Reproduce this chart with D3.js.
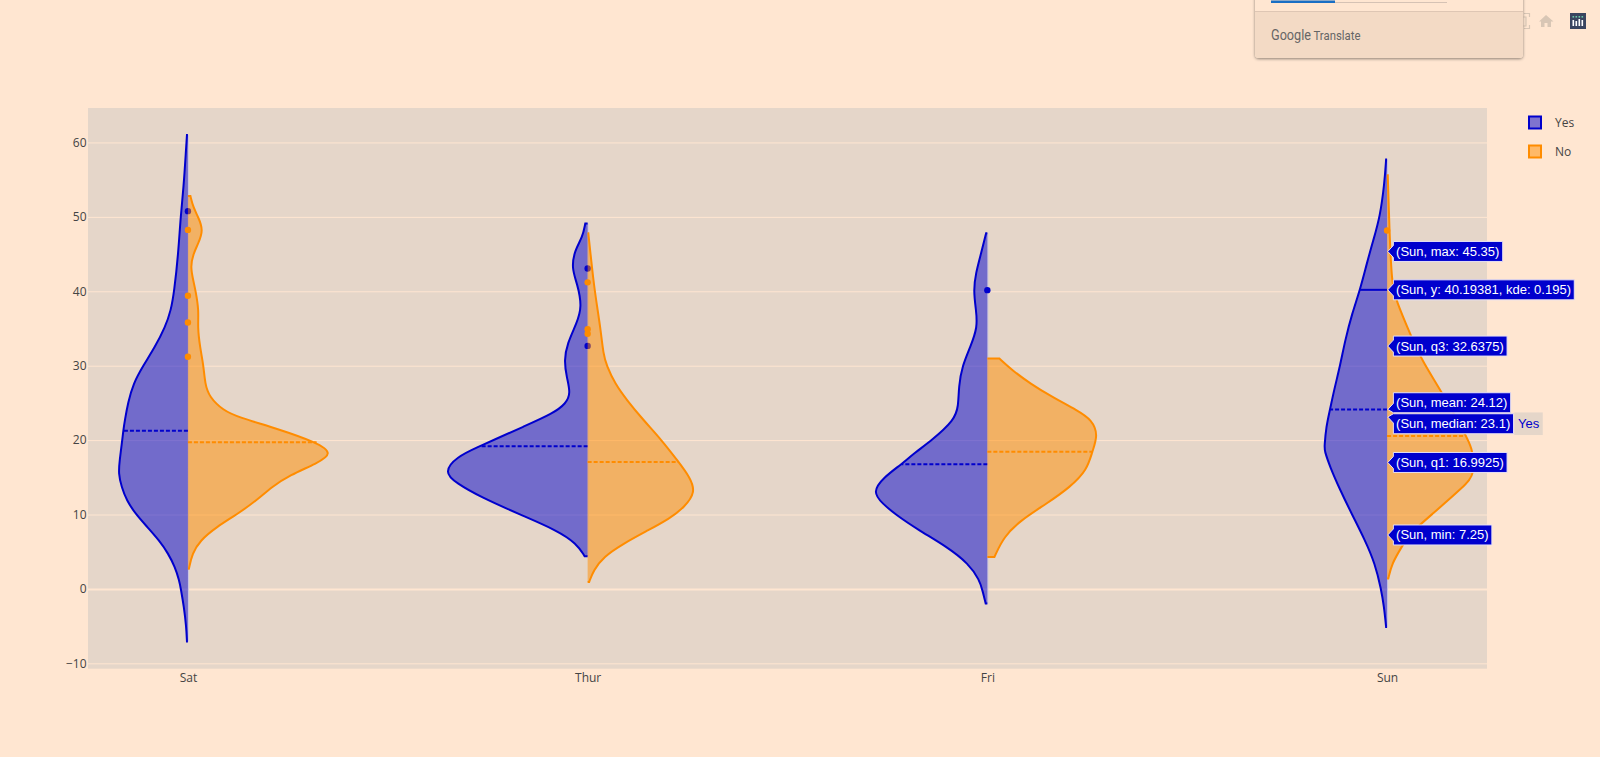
<!DOCTYPE html>
<html>
<head>
<meta charset="utf-8">
<script src="https://cdn.jsdelivr.net/npm/d3@7"></script>
<style>
html,body{margin:0;padding:0;background:#FFE6D1;overflow:hidden}
svg{display:block}
text{font-family:"Open Sans",sans-serif}
</style>
</head>
<body>
<svg id="c" width="1600" height="757"></svg>
<script>
const categories = ["Sat","Thur","Fri","Sun"];
const yTicks = [-10,0,10,20,30,40,50,60];
const seriesNames = ["Yes","No"];

// density profiles: [y, kde]
const satYes = [[61,.007],[59,.014],[54,.031],[50,.053],[45,.070],[40,.099],[37.4,.123],[35.2,.164],[32.5,.238],[30,.323],[27.6,.395],[25,.433],[22.7,.455],[21.25,.467],[20,.474],[17.3,.493],[15.5,.502],[13.7,.479],[11.9,.443],[10,.375],[8.33,.294],[6.5,.207],[4.75,.142],[2.96,.094],[1.17,.063],[0,.051],[-2.4,.029],[-5.1,.012],[-7.07,.007]];
const satNo = [[52.8,.018],[51.3,.038],[50,.074],[48.2,.112],[46.4,.074],[45,.038],[43.3,.018],[41.5,.038],[40,.056],[37.4,.079],[35.2,.070],[32.5,.087],[30,.113],[27.6,.123],[25.8,.154],[24,.255],[23.1,.361],[21.55,.643],[19.7,.929],[18.2,1.05],[16.85,.929],[15.3,.736],[13.7,.604],[11.9,.496],[10,.352],[8.33,.207],[6.5,.087],[4.75,.031],[2.7,.007]];
const thurYes = [[49.1,.017],[47.3,.036],[45.5,.094],[43.06,.116],[41,.074],[37.9,.040],[35.7,.079],[33,.147],[30.7,.170],[28.5,.152],[26.3,.122],[24.9,.157],[23.6,.248],[21.8,.464],[20,.681],[19.1,.789],[17.75,.946],[15.7,1.04],[14.2,.946],[12.4,.778],[10,.489],[7.9,.224],[6.1,.079],[4.4,.022]];
const thurNo = [[47.8,.005],[41.1,.043],[37.5,.072],[34.8,.094],[31.6,.113],[30,.137],[27.6,.197],[25.4,.282],[22.7,.402],[20,.534],[17.1,.655],[15,.739],[13,.78],[11,.700],[9.46,.592],[7.9,.438],[6.1,.258],[4.3,.113],[2.5,.043],[.94,.011]];
const friYes = [[47.8,.009],[45.1,.045],[42.4,.084],[40.1,.100],[37.5,.082],[35.2,.070],[32.5,.123],[30,.181],[27.2,.207],[24.5,.209],[22.7,.238],[20,.399],[18.2,.532],[16.8,.616],[15,.749],[13,.83],[11.5,.758],[10,.664],[7.9,.496],[5.65,.291],[3.4,.135],[1.17,.056],[-.17,.036],[-1.96,.012]];
const friNo = [[30.96,.087],[29.4,.178],[27.6,.310],[25.8,.467],[24,.648],[22.7,.756],[20.65,.80],[18.4,.756],[16,.720],[13.7,.599],[11.5,.431],[9.2,.238],[7,.118],[4.3,.051]];
const sunYes = [[57.7,.007],[54.5,.019],[50,.051],[46.9,.099],[43.7,.147],[40.19,.195],[37,.253],[33.4,.303],[30,.339],[26.7,.383],[24.1,.412],[21.8,.440],[19.1,.452],[18.6,.452],[16.4,.412],[13.3,.339],[10,.253],[6.55,.159],[3.4,.087],[0,.043],[-2.4,.022],[-5.1,.007]];
const sunNo = [[55.6,.005],[48.2,.017],[41,.034],[38.8,.065],[34.3,.166],[30.7,.251],[26.7,.388],[20.65,.568],[19.1,.612],[15.5,.640],[13.7,.551],[10,.323],[7.5,.166],[5.65,.106],[3.4,.034],[1.4,.009]];

const yesProfiles = [satYes,thurYes,friYes,sunYes];
const noProfiles = [satNo,thurNo,friNo,sunNo];
const yesMeans = [21.25,19.17,16.76,24.12];
const noMeans = [19.7,17.07,18.42,20.56];
const yesOutliers = [[50.77],[43.06,32.66],[40.15],[]];
const noOutliers = [[48.25,39.4,35.8,31.2],[41.2,34.9,34.3],[],[48.17]];

const hoverCategory = "Sun";
const hoverLabels = ["(Sun, max: 45.35)","(Sun, y: 40.19381, kde: 0.195)","(Sun, q3: 32.6375)","(Sun, mean: 24.12)","(Sun, median: 23.1)","(Sun, q1: 16.9925)","(Sun, min: 7.25)"];
const hoverValues = [45.35,40.19381,32.6375,24.12,23.1,16.9925,7.25];
const spikeValue = [40.19381,0.195];

const BLUE="#0000CD", ORANGE="#FF8C00", PAPER="#FFE6D1", PLOT="#E5D6C9";
const L=88,R=1487,T=108,B=668.7;

const svg=d3.select("#c");
const x=d3.scalePoint().domain(categories).range([L,R]).padding(0.25);
const y=d3.scaleLinear().domain([-10.72,64.63]).range([B,T]);
const kdeW=d3.scaleLinear().domain([0,1]).range([0,138.5]);

/* ---------- modebar (behind popup) ---------- */
const mb=svg.append("g");
mb.append("path").attr("d","M1524,13.5h5.5v3.5M1529.5,25v3.5h-5.5M1523.5,17h2.5v9h-2.5").attr("fill","none").attr("stroke","#D8C6B5").attr("stroke-width",1.2);
mb.append("path").attr("d","M1546,15 L1539,21.5 L1541,21.5 L1541,27 L1544.5,27 L1544.5,23 L1547.5,23 L1547.5,27 L1551,27 L1551,21.5 L1553.5,21.5 Z").attr("fill","#D8C6B5");
mb.append("rect").attr("x",1570).attr("y",13).attr("width",16).attr("height",16).attr("fill","#3A4560");
[1572.5,1575.5,1578.5,1581.5].forEach((bx,i)=>{
  const top=[20,21,19,20][i];
  mb.append("rect").attr("x",bx).attr("y",top).attr("width",1.6).attr("height",26-top).attr("fill","#fff");
  mb.append("rect").attr("x",bx).attr("y",16).attr("width",1.6).attr("height",1.6).attr("fill","#69C8A8");
});

/* ---------- plot ---------- */
svg.append("rect").attr("x",L).attr("y",T).attr("width",R-L).attr("height",B-T).attr("fill",PLOT);

const grid=svg.append("g").attr("transform",`translate(${L},0)`)
  .call(d3.axisLeft(y).tickValues(yTicks).tickSize(-(R-L)).tickFormat(""));
grid.select(".domain").remove();
grid.selectAll("line").attr("stroke",PAPER).attr("stroke-width",d=>d===0?2:1);

const yAxis=svg.append("g").attr("transform",`translate(${L},0)`)
  .call(d3.axisLeft(y).tickValues(yTicks).tickSize(0).tickPadding(1.5));
yAxis.select(".domain").remove();
yAxis.selectAll("text").attr("font-family","'Open Sans',sans-serif").attr("font-size",12).attr("fill","#444");

const xAxis=svg.append("g").attr("transform",`translate(0,${B})`)
  .call(d3.axisBottom(x).tickSize(0).tickPadding(5));
xAxis.select(".domain").remove();
xAxis.selectAll("text").attr("font-family","'Open Sans',sans-serif").attr("font-size",12).attr("fill","#444");

const smooth=d3.curveBasis;
function outline(profile,cx,side){
  const line=d3.line().curve(smooth).x(d=>cx+side*kdeW(d[1])).y(d=>y(d[0]));
  const body=line(profile).replace(/^M/,"L");
  return `M${cx},${y(profile[0][0])}${body}L${cx},${y(profile[profile.length-1][0])}`;
}
function kdeAt(profile,v){
  for(let i=0;i<profile.length-1;i++){
    const a=profile[i],b=profile[i+1];
    if(v<=a[0]&&v>=b[0]) return a[1]+(b[1]-a[1])*(a[0]-v)/(a[0]-b[0]);
  }
  return 0;
}
function drawViolin(profile,mean,outliers,cx,side,color){
  const g=svg.append("g");
  const d=outline(profile,cx,side);
  g.append("path").attr("d",d+"Z").attr("fill",color).attr("fill-opacity",0.5);
  g.append("path").attr("d",d).attr("fill","none").attr("stroke",color).attr("stroke-width",2);
  g.append("line").attr("x1",cx).attr("x2",cx+side*kdeW(kdeAt(profile,mean)))
    .attr("y1",y(mean)).attr("y2",y(mean)).attr("stroke",color).attr("stroke-width",2).attr("stroke-dasharray","4,2");
  g.selectAll("circle").data(outliers).join("circle")
    .attr("cx",cx).attr("cy",v=>y(v)).attr("r",3.2).attr("fill",color);
}
categories.forEach((c,i)=>{
  const cx=x(c);
  const p=yesProfiles[i];
  svg.append("line").attr("x1",cx+0.5).attr("x2",cx+0.5).attr("y1",y(p[0][0])).attr("y2",y(p[p.length-1][0]))
    .attr("stroke","#C9C4E4").attr("stroke-width",1);
});
categories.forEach((c,i)=>drawViolin(yesProfiles[i],yesMeans[i],yesOutliers[i],x(c),-1,BLUE));
categories.forEach((c,i)=>drawViolin(noProfiles[i],noMeans[i],noOutliers[i],x(c),1,ORANGE));

/* ---------- legend ---------- */
const lg=svg.append("g");
seriesNames.forEach((n,i)=>{
  const col=i===0?BLUE:ORANGE, cy=122.5+i*29;
  lg.append("rect").attr("x",1529).attr("y",cy-6).attr("width",12).attr("height",12)
    .attr("fill",col).attr("fill-opacity",0.5).attr("stroke",col).attr("stroke-width",2);
  lg.append("text").attr("x",1555).attr("y",cy+4.2).attr("font-size",12).attr("fill","#444").text(n);
});

/* ---------- hover ---------- */
const hx=x(hoverCategory);
svg.append("line").attr("x1",hx-kdeW(spikeValue[1])).attr("x2",hx)
  .attr("y1",y(spikeValue[0])).attr("y2",y(spikeValue[0])).attr("stroke",BLUE).attr("stroke-width",2);

const tips=hoverLabels.map((t,i)=>({t,tip:y(hoverValues[i]),c:y(hoverValues[i])}));
for(let i=0;i<tips.length-1;i++){
  const a=tips[i],b=tips[i+1];
  if(b.c-a.c<21){const m=(a.c+b.c)/2;a.c=m-10.5;b.c=m+10.5;}
}
const hg=svg.append("g");
tips.forEach((d,i)=>{
  const g=hg.append("g");
  const path=g.append("path");
  const tx=g.append("text").attr("x",hx+9).attr("y",d.c+4.5)
    .style("font-family","'Liberation Sans',Arial,sans-serif").attr("font-size",13).attr("fill","#fff").text(d.t);
  const w=tx.node().getComputedTextLength();
  const bx=hx+6.3, rx=bx+w+6, top=d.c-10, bot=d.c+10, tipX=hx+0.7;
  const pts=[[tipX,d.tip],[bx,Math.max(top,d.tip-6)],[bx,top],[rx,top],[rx,bot],[bx,bot],[bx,Math.min(bot,d.tip+6)]];
  path.attr("d","M"+pts.map(p=>p.join(",")).join("L")+"Z").attr("fill",BLUE).attr("stroke","#E6E0F4").attr("stroke-width",1);
  if(hoverLabels[i].includes("median")){
    const nb=hg.append("g");
    nb.append("rect").attr("x",rx+0.7).attr("y",d.c-11.3).attr("width",28.5).attr("height",22.6).attr("fill",PLOT);
    nb.append("text").attr("x",rx+15).attr("y",d.c+4.5).attr("text-anchor","middle")
      .style("font-family","'Liberation Sans',Arial,sans-serif").attr("font-size",13).attr("fill",BLUE).text(seriesNames[0]);
  }
});

/* ---------- translate popup ---------- */
const defs=svg.append("defs");
const f=defs.append("filter").attr("id","sh").attr("x","-5%").attr("y","-20%").attr("width","110%").attr("height","150%");
f.append("feDropShadow").attr("dx",0).attr("dy",1).attr("stdDeviation",1.6).attr("flood-color","#000").attr("flood-opacity",0.45);
const pop=svg.append("g");
pop.append("rect").attr("x",1255).attr("y",-20).attr("width",268).attr("height",78).attr("rx",4).attr("fill","#FFE6D1").attr("filter","url(#sh)");
pop.append("path").attr("d","M1255,11.5H1523V54a4,4 0 0 1 -4,4H1259a4,4 0 0 1 -4,-4Z").attr("fill","#F3DAC5");
pop.append("line").attr("x1",1255).attr("x2",1523).attr("y1",11.5).attr("y2",11.5).attr("stroke","#DEC6B4");
pop.append("rect").attr("x",1271).attr("y",2).attr("width",176).attr("height",1).attr("fill","#D6C2B4");
pop.append("rect").attr("x",1271).attr("y",0.5).attr("width",64).attr("height",2.5).attr("fill","#1A6FC4");
pop.append("text").attr("x",1271).attr("y",39.5).style("font-family","Roboto,sans-serif").attr("font-size",14.5).attr("fill","#666")
  .attr("textLength",40).attr("lengthAdjust","spacingAndGlyphs").text("Google");
pop.append("text").attr("x",1313.5).attr("y",39.5).style("font-family","Roboto,sans-serif").attr("font-size",13).attr("fill","#666")
  .attr("textLength",47).attr("lengthAdjust","spacingAndGlyphs").text("Translate");
</script>
</body>
</html>
